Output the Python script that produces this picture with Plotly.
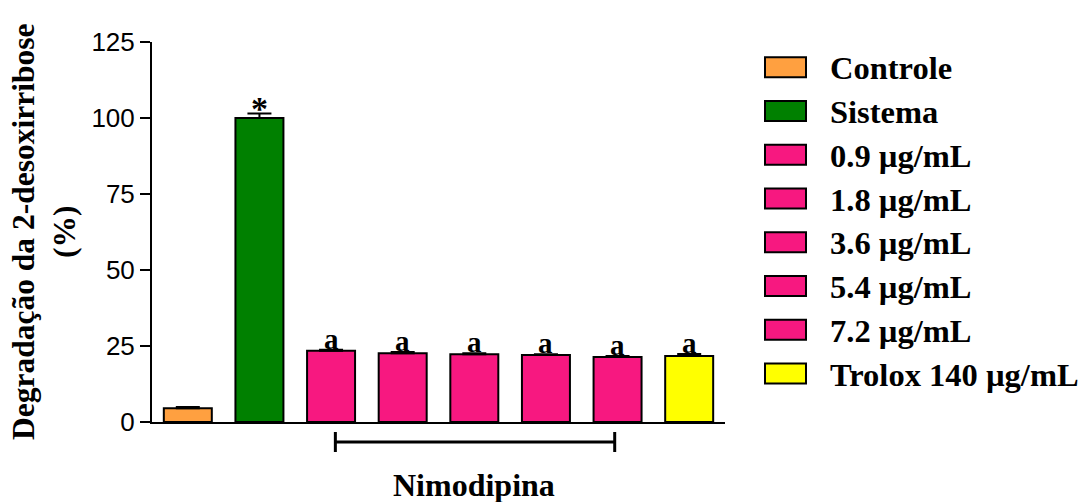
import plotly.graph_objects as go

# ---- data ----
categories = ["Controle", "Sistema", "0.9 µg/mL", "1.8 µg/mL", "3.6 µg/mL",
              "5.4 µg/mL", "7.2 µg/mL", "Trolox 140 µg/mL"]
values = [4.5, 100.0, 23.4, 22.6, 22.3, 22.0, 21.4, 21.7]
errors = [0.4, 1.5, 0.4, 0.4, 0.3, 0.3, 0.3, 0.7]
labels = ["", "*", "a", "a", "a", "a", "a", "a"]
colors = ["#FFA040", "#008000", "#F71880", "#F71880", "#F71880",
          "#F71880", "#F71880", "#FFFF00"]
group_name = "Nimodipina"
group_members = [2, 3, 4, 5, 6]
y_ticks = [0, 25, 50, 75, 100, 125]

# ---- layout geometry ----
W, H = 1087, 502
ML, MR, MT, MB = 152, 362, 42, 80
PW = W - ML - MR
PH = H - MT - MB


def px_x(p):
    return (p - ML) / PW


def px_y(p):
    return (H - MB - p) / PH


SERIF = "Liberation Serif, Times New Roman, serif"
SANS = "Liberation Sans, Arial, sans-serif"

x_idx = list(range(len(categories)))

fig = go.Figure()
fig.add_trace(go.Bar(
    x=x_idx, y=values, width=0.67,
    marker=dict(color=colors, line=dict(color="black", width=2)),
    error_y=dict(type="data", array=errors, arrayminus=[0] * len(errors),
                 symmetric=False, color="black", thickness=2, width=12),
    showlegend=False, hoverinfo="x+y",
))

annotations = []
# significance letters
for i, (v, e, lab) in enumerate(zip(values, errors, labels)):
    if not lab:
        continue
    if lab == "*":
        annotations.append(dict(x=i, y=v + e, xref="x", yref="y", text="<b>*</b>",
                                showarrow=False, yanchor="bottom", yshift=-16,
                                font=dict(family=SERIF, size=34, color="black")))
    else:
        annotations.append(dict(x=i, y=v + e, xref="x", yref="y", text="<b>a</b>",
                                showarrow=False, yanchor="bottom", yshift=-7,
                                font=dict(family=SERIF, size=29, color="black")))

# y-axis title
annotations.append(dict(
    x=px_x(44), y=0.5, xref="paper", yref="paper",
    text="<b>Degradação da 2-desoxirribose</b><br><b>(%)</b>",
    textangle=-90, showarrow=False, xanchor="center", yanchor="middle",
    font=dict(family=SERIF, size=31.5, color="black")))

# group bracket
shapes = []
g0, g1 = group_members[0] + 0.06, group_members[-1] - 0.04
yb = px_y(442)
yt1, yt2 = px_y(432), px_y(452)
shapes.append(dict(type="line", xref="x", yref="paper", x0=g0, x1=g1, y0=yb, y1=yb,
                   line=dict(color="black", width=3)))
for gx in (g0, g1):
    shapes.append(dict(type="line", xref="x", yref="paper", x0=gx, x1=gx, y0=yt1, y1=yt2,
                       line=dict(color="black", width=3)))
annotations.append(dict(x=(group_members[0] + group_members[-1]) / 2, y=px_y(485),
                        xref="x", yref="paper", text="<b>" + group_name + "</b>",
                        showarrow=False, xanchor="center", yanchor="middle",
                        font=dict(family=SERIF, size=32, color="black")))

# custom legend
row0, step = 67.3, 43.75
for i, (name, col) in enumerate(zip(categories, colors)):
    cy = row0 + i * step
    shapes.append(dict(type="rect", xref="paper", yref="paper",
                       x0=px_x(765), x1=px_x(806), y0=px_y(cy - 10), y1=px_y(cy + 10),
                       fillcolor=col, line=dict(color="black", width=2)))
    annotations.append(dict(x=px_x(828), y=px_y(cy + 1), xref="paper", yref="paper",
                            text="<b>" + name + "</b>", showarrow=False,
                            xanchor="left", yanchor="middle",
                            font=dict(family=SERIF, size=32.5, color="black")))

fig.update_layout(
    width=W, height=H,
    margin=dict(l=ML, r=MR, t=MT, b=MB, pad=0),
    paper_bgcolor="white", plot_bgcolor="white",
    xaxis=dict(range=[-0.5, 7.5], showticklabels=False, ticks="", showgrid=False,
               zeroline=False, showline=True, linecolor="black", linewidth=2),
    yaxis=dict(range=[0, 125], tickvals=y_ticks, ticks="outside", ticklen=10,
               tickwidth=2, tickcolor="black", showgrid=False, zeroline=False,
               showline=True, linecolor="black", linewidth=2,
               tickfont=dict(family=SANS, size=26, color="black")),
    annotations=annotations, shapes=shapes, bargap=0.33,
)

fig.write_html("out.html")
